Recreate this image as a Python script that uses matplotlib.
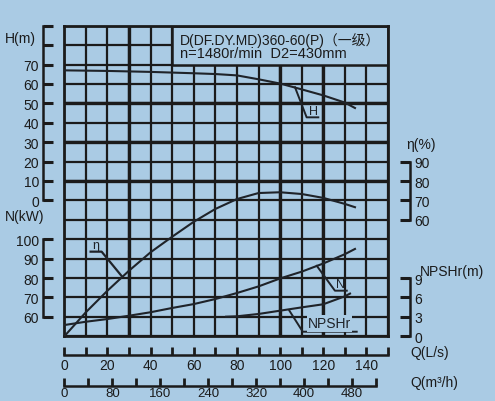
import numpy as np
import matplotlib
matplotlib.use('Agg')
import matplotlib.pyplot as plt
from matplotlib.patches import Rectangle

# performance curves, flow Q in L/s
q_h = [0, 20, 40, 60, 70, 80, 90, 100, 110, 120, 130, 134.7]
head = [67.0, 66.7, 66.2, 65.5, 65.1, 64.4, 62.4, 60.2, 57.2, 54.1, 50.4, 47.6]

q_eta = [0, 10, 20, 30, 40, 50, 60, 70, 80, 90, 100, 110, 120, 130, 134.7]
eta = [0, 12.4, 23.5, 33.8, 43.3, 51.3, 59.0, 65.6, 70.7, 73.8, 74.2, 73.3, 71.3, 68.2, 66.5]

q_n = [0, 10, 20, 30, 40, 50, 60, 70, 80, 90, 100, 110, 120, 130, 134.7]
power = [55.8, 57.5, 58.9, 60.6, 62.4, 64.6, 66.6, 69.2, 72.3, 75.7, 79.8, 83.3, 87.5, 92.3, 95.0]

q_npsh = [75, 80, 90, 100, 110, 120, 130, 132.4]
npsh = [3.03, 3.09, 3.45, 3.96, 4.47, 4.95, 6.18, 6.6]

# scales
h_ticks = list(range(0, 100, 10))
h_labels = ['0', '10', '20', '30', '40', '50', '60', '70', '', '']
n_ticks = [60, 70, 80, 90, 100]
eta_ticks = [60, 70, 80, 90]
npsh_ticks = [0, 3, 6, 9]
q_ticks = list(range(0, 151, 10))
q_labels = [str(v) if v % 20 == 0 and v <= 140 else '' for v in q_ticks]
m3h_ticks = list(range(0, 521, 40))
m3h_labels = [str(v) if v % 80 == 0 else '' for v in m3h_ticks]

title_1 = 'D(DF.DY.MD)360-60(P)（一级）'
title_2 = 'n=1480r/min  D2=430mm'

plt.rcParams['font.family'] = ['Liberation Sans', 'Noto Sans CJK SC', 'DejaVu Sans']

BG = '#aacbe4'
INK = '#1b1b1b'
CURVE = '#1f2329'
W, H = 495, 402

fig = plt.figure(figsize=(W / 100, H / 100), dpi=100, facecolor=BG)
rect = [64.3 / W, 1 - 337.3 / H, 323.7 / W, 310.6 / H]

# grid: 15 columns of 10 L/s, 16 rows
ax = fig.add_axes(rect, facecolor=BG)
ax.set_xlim(0, 150)
ax.set_ylim(0, 16)
ax.set_xticks(np.arange(0, 151, 10))
ax.set_yticks(np.arange(0, 17, 1))
ax.tick_params(length=0, labelbottom=False, labelleft=False)
ax.set_axisbelow(True)
ax.grid(True, color=INK, lw=1.6)
for s in ax.spines.values():
    s.set_linewidth(2.0)
    s.set_color(INK)
for q in [30, 100, 120]:
    ax.axvline(q, color=INK, lw=2.4, zorder=1)
for r in [8, 10, 12]:
    ax.axhline(r, color=INK, lw=2.4, zorder=1)

# title box
ax.add_patch(Rectangle((50, 14), 100, 2, facecolor=BG, edgecolor=INK, lw=1.8, zorder=1.5))
ax.text(53.6, 15.3, title_1, va='center', fontsize=10, color=INK, zorder=3)
ax.text(53.6, 14.57, title_2, va='center', fontsize=10.5, color=INK, zorder=3)


def overlay(xlim, ylim):
    a = fig.add_axes(rect, facecolor='none')
    a.set_xlim(*xlim)
    a.set_ylim(*ylim)
    for s in a.spines.values():
        s.set_visible(False)
        s.set_linewidth(1.8)
        s.set_color(INK)
    a.set_xticks([])
    a.set_yticks([])
    return a


def yscale(a, side, ticks, labels, lo, hi):
    sp = a.spines[side]
    sp.set_visible(True)
    sp.set_position(('outward', 15.1 if side == 'left' else 15.8))
    sp.set_bounds(lo, hi)
    if side == 'right':
        a.yaxis.tick_right()
    a.set_yticks(ticks, labels)
    a.tick_params(axis='y', direction='in', length=7.2, width=2.2, pad=3,
                  labelsize=10, colors=INK)


def xscale(a, offset, ticks, labels, lo, hi, pad=2.5, size=10):
    sp = a.spines['bottom']
    sp.set_visible(True)
    sp.set_position(('outward', offset))
    sp.set_bounds(lo, hi)
    a.set_xticks(ticks, labels)
    a.tick_params(axis='x', direction='in', length=5.8, width=2.0, pad=pad,
                  labelsize=size, colors=INK)


axH = overlay((0, 150), (-70, 90))
yscale(axH, 'left', h_ticks, h_labels, 0, 90)
xscale(axH, 13.2, q_ticks, q_labels, 0, 150)

axN = overlay((0, 150), (50, 210))
yscale(axN, 'left', n_ticks, [str(v) for v in n_ticks], 60, 100)

axE = overlay((0, 150), (0, 160))
yscale(axE, 'right', eta_ticks, [str(v) for v in eta_ticks], 60, 90)

axP = overlay((0, 150), (0, 48))
yscale(axP, 'right', npsh_ticks, [str(v) for v in npsh_ticks], 0, 9)

axM = overlay((0, 540), (0, 1))
xscale(axM, 35.6, m3h_ticks, m3h_labels, 0, 520, pad=1.2, size=9.5)

# curves
axH.plot(q_h, head, color=CURVE, lw=1.5, zorder=3)
axE.plot(q_eta, eta, color=CURVE, lw=1.5, zorder=3)
axN.plot(q_n, power, color=CURVE, lw=1.5, zorder=3)
axP.plot(q_npsh, npsh, color=CURVE, lw=1.5, zorder=3)

# curve labels with leaders
axH.plot([106.9, 112.3, 117.7], [58.3, 42.8, 42.8], color=CURVE, lw=1.4)
axH.text(115.4, 43.0, 'H', ha='center', va='bottom', fontsize=9, color=CURVE)
axN.plot([117.0, 125.4, 130.9], [86.3, 73.5, 73.5], color=CURVE, lw=1.4)
axN.text(128.1, 73.8, 'N', ha='center', va='bottom', fontsize=9, color=CURVE)
axE.plot([12.2, 17.3, 26.6], [43.6, 43.6, 31.0], color=CURVE, lw=1.6)
axE.text(14.6, 43.9, 'η', ha='center', va='bottom', fontsize=9, color=CURVE)
axP.plot([104.3, 110.5, 135.5], [3.96, 0.71, 0.71], color=CURVE, lw=1.4)
axP.text(123.0, 0.9, 'NPSHr', ha='center', va='bottom', fontsize=10, color=CURVE,
         bbox=dict(facecolor=BG, edgecolor='none', pad=0.8))


def ftext(x, y, s, **kw):
    fig.text(x / W, 1 - y / H, s, va='center', fontsize=10, color=INK, **kw)


ftext(5, 39, 'H(m)')
ftext(5, 216.7, 'N(kW)')
ftext(406.7, 145, 'η(%)')
ftext(420, 271.7, 'NPSHr(m)')
ftext(410.7, 353.3, 'Q(L/s)')
ftext(410.7, 382.7, 'Q(m³/h)')

fig.savefig('out.png', dpi=100, facecolor=BG)
